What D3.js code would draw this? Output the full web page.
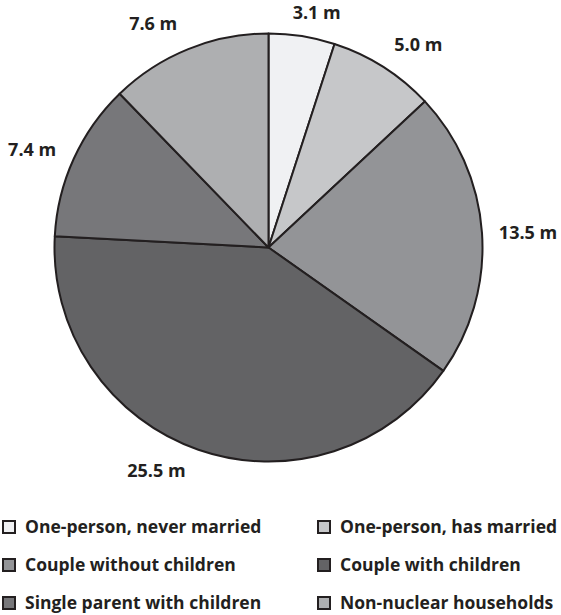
<!DOCTYPE html>
<html>
<head>
<meta charset="utf-8">
<script src="https://cdn.jsdelivr.net/npm/d3@7"></script>
<style>
  body { margin: 0; background: #fff; }
  text { font-family: "Open Sans", "Liberation Sans", sans-serif; font-weight: bold; fill: #231f20; }
</style>
</head>
<body>
<svg id="chart" width="561" height="615"></svg>
<script>
// Households by type (millions)
const categories = [
  "One-person, never married",
  "One-person, has married",
  "Couple without children",
  "Couple with children",
  "Single parent with children",
  "Non-nuclear households"
];
const values = [3.1, 5.0, 13.5, 25.5, 7.4, 7.6];
const labels = ["3.1 m", "5.0 m", "13.5 m", "25.5 m", "7.4 m", "7.6 m"];
const colors = ["#f0f1f3", "#c6c7c9", "#939497", "#636365", "#77777a", "#aeafb1"];
// Value label placement: angular nudge from slice middle (degrees) and distance from centre
const labelNudge = [2.6, 4.0, 0.5, 7.5, -1.9, -5.2];
const labelRadius = [240, 252, 260, 250, 256, 252];

const svg = d3.select("#chart");
const cx = 268.5, cy = 247.5, radius = 214;

const pie = d3.pie().sort(null).value(d => d.value);
const data = categories.map((c, i) => ({ name: c, value: values[i], label: labels[i], color: colors[i] }));
const arcs = pie(data);

const arc = d3.arc().innerRadius(0).outerRadius(radius);

const g = svg.append("g").attr("transform", `translate(${cx},${cy})`);

g.selectAll("path.slice")
  .data(arcs)
  .join("path")
  .attr("class", "slice")
  .attr("d", arc)
  .attr("fill", d => d.data.color)
  .attr("stroke", "#231f20")
  .attr("stroke-width", 2)
  .attr("stroke-linejoin", "round");

function labelPos(d, i) {
  const a = (d.startAngle + d.endAngle) / 2 + labelNudge[i] * Math.PI / 180;
  const r = labelRadius[i];
  return [r * Math.sin(a), -r * Math.cos(a)];
}

g.selectAll("text.val")
  .data(arcs)
  .join("text")
  .attr("class", "val")
  .attr("transform", (d, i) => `translate(${labelPos(d, i)})`)
  .attr("text-anchor", "middle")
  .attr("dy", "0.36em")
  .style("font-size", "18px")
  .text(d => d.data.label);

// Legend: two columns, three rows
const legend = svg.append("g");
const colX = [2, 317], rowY = [527, 565, 603];
const items = legend.selectAll("g.item")
  .data(data)
  .join("g")
  .attr("class", "item")
  .attr("transform", (d, i) => `translate(${colX[i % 2]},${rowY[Math.floor(i / 2)]})`);

items.append("rect")
  .attr("x", 1).attr("y", -6)
  .attr("width", 12).attr("height", 12)
  .attr("fill", d => d.color)
  .attr("stroke", "#231f20")
  .attr("stroke-width", 2);

items.append("text")
  .attr("x", 23)
  .attr("dy", "0.36em")
  .style("font-size", "17.5px")
  .text(d => d.name);
</script>
</body>
</html>
